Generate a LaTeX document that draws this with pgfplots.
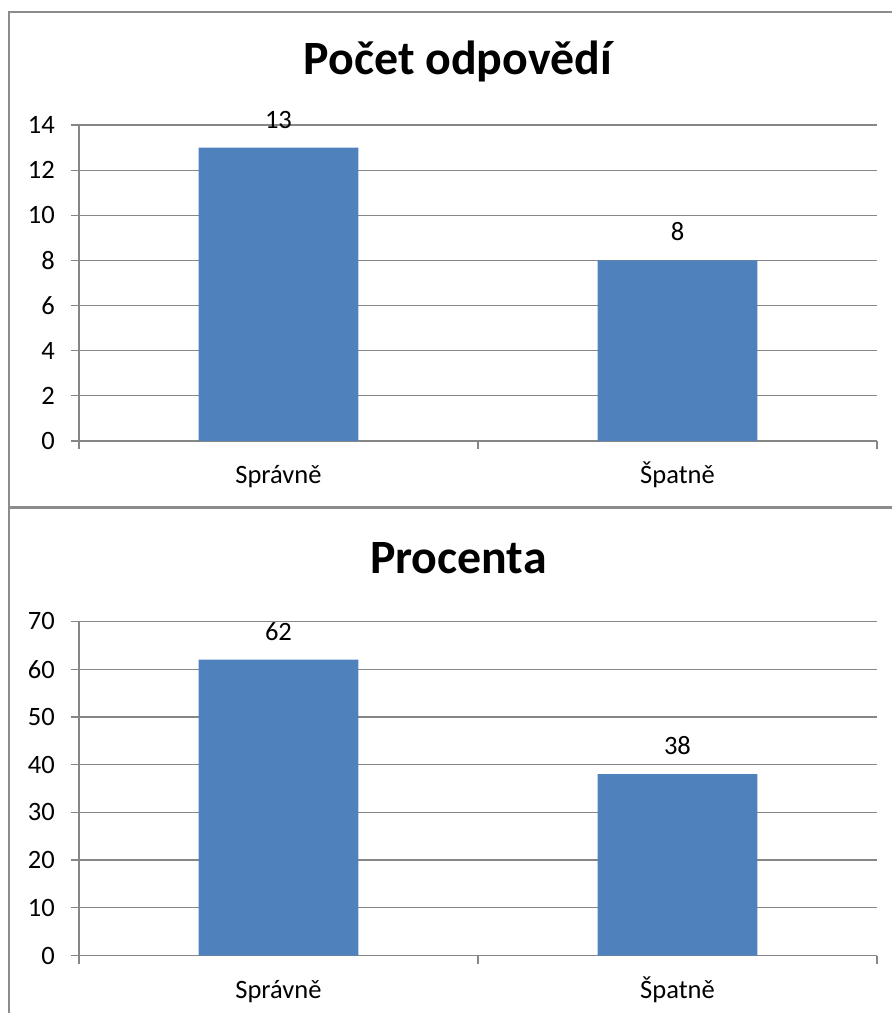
\documentclass[border=0pt]{standalone}
\usepackage{fontspec}
\setmainfont{Carlito}
\usepackage{pgfplots}
\pgfplotsset{compat=1.18}
\definecolor{barblue}{HTML}{4F81BD}
\definecolor{axgray}{HTML}{868686}
\definecolor{boxgray}{HTML}{8C8C8C}
\pgfplotsset{excelbar/.style={
  scale only axis, width=306.9pt,
  xmin=0, xmax=2, ymin=0,
  ybar, bar width=0.4,
  axis x line*=bottom, axis y line*=left,
  axis line style={axgray, line width=0.5pt},
  ymajorgrids, grid style={axgray, line width=0.5pt},
  tick align=outside, major tick length=3.08pt,
  tick style={axgray, line width=0.5pt},
  xtick={0,1,2}, xticklabels={,,},
  extra x ticks={0.5,1.5}, extra x tick labels={Správně,Špatně},
  extra x tick style={major tick length=0pt, xticklabel style={anchor=base, yshift=-16.5pt}},
  /pgf/number format/assume math mode=true,
  ticklabel style={font=\fontsize{10.2}{12}\selectfont, black},
  yticklabel style={anchor=east, xshift=-2.7pt},
  nodes near coords,
  every node near coord/.append style={anchor=base, yshift=7.5pt, font=\fontsize{10.2}{12}\selectfont, black},
}}
\begin{document}
\begin{tikzpicture}
\useasboundingbox (0,0) rectangle (343.1pt,389.6pt);
\draw[boxgray, line width=0.8pt] (3.46pt,0) -- (3.46pt,385pt) -- (343.1pt,385pt);
\draw[boxgray, line width=0.8pt] (3.46pt,194.4pt) -- (343.1pt,194.4pt);
\node[anchor=base, font=\fontsize{18.4}{22}\selectfont\bfseries] at (176.1pt,361.1pt) {Počet odpovědí};
\node[anchor=base, font=\fontsize{18.4}{22}\selectfont\bfseries] at (176.3pt,169.2pt) {Procenta};
\begin{axis}[excelbar, at={(30.38pt,220.0pt)}, anchor=south west,
  height=121.5pt, ymax=14, ytick={0,2,...,14}]
\addplot[fill=barblue, draw=none] coordinates {(0.5,13) (1.5,8)};
\end{axis}
\begin{axis}[excelbar, at={(30.38pt,22.1pt)}, anchor=south west,
  height=128.5pt, ymax=70, ytick={0,10,...,70}]
\addplot[fill=barblue, draw=none] coordinates {(0.5,62) (1.5,38)};
\end{axis}
\end{tikzpicture}
\end{document}
